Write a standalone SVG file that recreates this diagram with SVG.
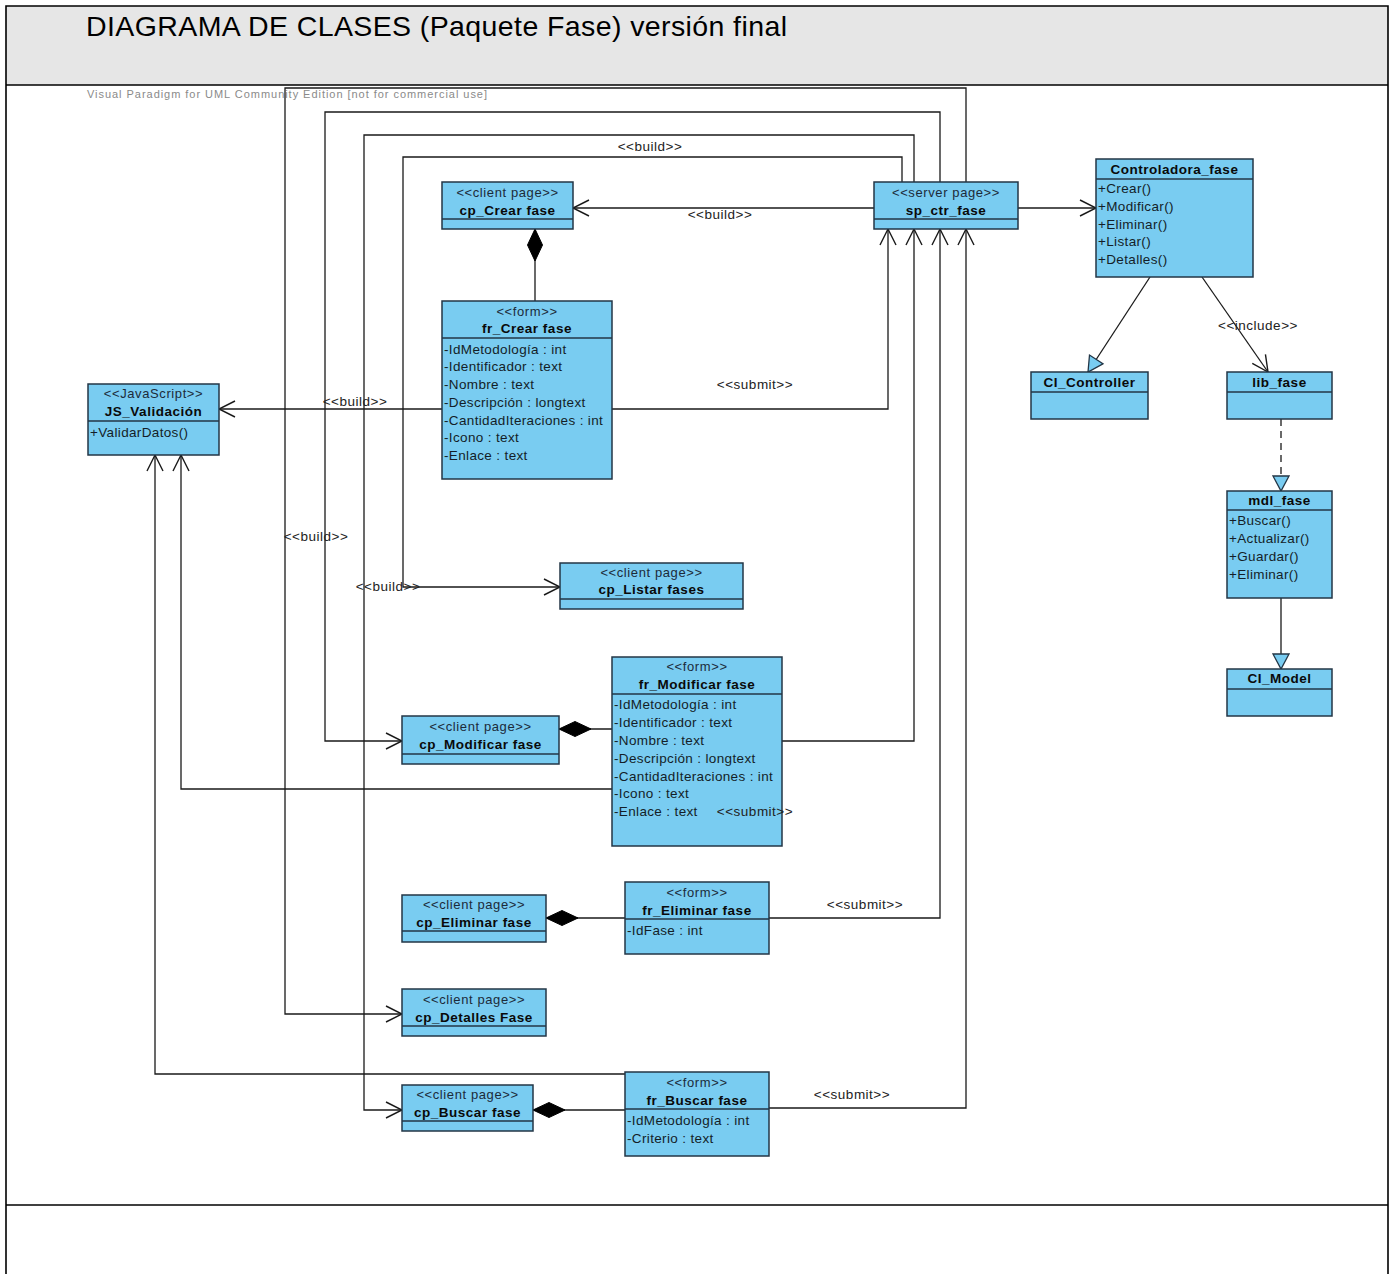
<svg xmlns="http://www.w3.org/2000/svg" width="1395" height="1274" viewBox="0 0 1395 1274">
  <style>
    .frame { fill: none; stroke: #000; stroke-width: 1.6; }
    .box { fill: #79CCF1; stroke: #233646; stroke-width: 1.5; }
    .sep { stroke: #233646; stroke-width: 1.3; }
    .st { font-family: "Liberation Sans", Arial, sans-serif; font-size: 13px; letter-spacing: 0.6px; fill: #1c2b3a; text-anchor: middle; }
    .nm { font-family: "Liberation Sans", Arial, sans-serif; font-size: 13.5px; letter-spacing: 0.5px; font-weight: bold; fill: #0a0a0a; text-anchor: middle; }
    .mb { font-family: "Liberation Sans", Arial, sans-serif; font-size: 13.5px; letter-spacing: 0.35px; fill: #141e28; }
    .lbl { font-family: "Liberation Sans", Arial, sans-serif; font-size: 13.5px; letter-spacing: 0.5px; fill: #222; text-anchor: middle; }
    .ln { fill: none; stroke: #1a1a1a; stroke-width: 1.3; }
    .dash { stroke-dasharray: 7 5; }
  </style>
  <defs>
    <marker id="open" viewBox="-18 -10 20 20" refX="0" refY="0" markerWidth="20" markerHeight="20" markerUnits="userSpaceOnUse" orient="auto">
      <path d="M-16,-8 L0,0 L-16,8" fill="none" stroke="#1a1a1a" stroke-width="1.4"/>
    </marker>
    <marker id="tri" viewBox="-18 -10 20 20" refX="0" refY="0" markerWidth="20" markerHeight="20" markerUnits="userSpaceOnUse" orient="auto">
      <path d="M-15,-8 L0,0 L-15,8 Z" fill="#79CCF1" stroke="#233646" stroke-width="1.3"/>
    </marker>
    <marker id="diamond" viewBox="-1 -9 34 18" refX="0" refY="0" markerWidth="34" markerHeight="18" markerUnits="userSpaceOnUse" orient="auto">
      <path d="M0,0 L16,-7.5 L32,0 L16,7.5 Z" fill="#000" stroke="#000" stroke-width="1"/>
    </marker>
  </defs>

  <rect x="0" y="0" width="1395" height="1274" fill="#fff"/>

  <!-- page frame: title band, drawing area and empty footer row -->
  <g id="frame">
    <rect x="6" y="6" width="1382" height="79" fill="#E6E6E6"/>
    <path class="frame" d="M6,1274 L6,6 L1388,6 L1388,1274"/>
    <line class="frame" x1="6" y1="85" x2="1388" y2="85"/>
    <line class="frame" x1="6" y1="1205" x2="1388" y2="1205"/>
    <text x="86" y="36" font-family="Liberation Sans, Arial, sans-serif" font-size="28.5" fill="#000" textLength="701">DIAGRAMA DE CLASES (Paquete Fase) versión final</text>
    <text x="87" y="98" font-family="Liberation Sans, Arial, sans-serif" font-size="11" fill="#8a8a8a" textLength="400">Visual Paradigm for UML Community Edition [not for commercial use]</text>
  </g>

  <!-- connectors -->
  <g id="connectors">
    <path class="ln" d="M874,208 L573,208" marker-end="url(#open)"/>
    <path class="ln" d="M1018,208 L1096,208" marker-end="url(#open)"/>
    <path class="ln" d="M535,229 L535,301" marker-start="url(#diamond)"/>
    <path class="ln" d="M612,409 L888,409 L888,229" marker-end="url(#open)"/>
    <path class="ln" d="M442,409 L219,409" marker-end="url(#open)"/>
    <path class="ln" d="M782,741 L914,741 L914,229" marker-end="url(#open)"/>
    <path class="ln" d="M769,918 L940,918 L940,229" marker-end="url(#open)"/>
    <path class="ln" d="M769,1108 L966,1108 L966,229" marker-end="url(#open)"/>
    <path class="ln" d="M902,182 L902,157 L403,157 L403,587 L560,587" marker-end="url(#open)"/>
    <path class="ln" d="M914,182 L914,135 L364,135 L364,1110 L402,1110" marker-end="url(#open)"/>
    <path class="ln" d="M940,182 L940,112 L325,112 L325,741 L402,741" marker-end="url(#open)"/>
    <path class="ln" d="M966,182 L966,88 L285,88 L285,1014 L402,1014" marker-end="url(#open)"/>
    <path class="ln" d="M612,789 L181,789 L181,455" marker-end="url(#open)"/>
    <path class="ln" d="M625,1074 L155,1074 L155,455" marker-end="url(#open)"/>
    <path class="ln" d="M559,729 L612,729" marker-start="url(#diamond)"/>
    <path class="ln" d="M546,918 L625,918" marker-start="url(#diamond)"/>
    <path class="ln" d="M533,1110 L625,1110" marker-start="url(#diamond)"/>
    <path class="ln" d="M1150,277 L1088,372" marker-end="url(#tri)"/>
    <path class="ln" d="M1202,277 L1268,372" marker-end="url(#open)"/>
    <path class="ln dash" d="M1281,419 L1281,491" marker-end="url(#tri)"/>
    <path class="ln" d="M1281,598 L1281,669" marker-end="url(#tri)"/>
  </g>

  <!-- classes -->
  <g id="cp_crear_fase">
    <rect class="box" x="442" y="182" width="131" height="47"/>
    <line class="sep" x1="442" y1="219" x2="573" y2="219"/>
    <text class="st" x="507.5" y="197">&lt;&lt;client page&gt;&gt;</text>
    <text class="nm" x="507.5" y="215">cp_Crear fase</text>
  </g>

  <g id="sp_ctr_fase">
    <rect class="box" x="874" y="182" width="144" height="47"/>
    <line class="sep" x1="874" y1="219" x2="1018" y2="219"/>
    <text class="st" x="946" y="197">&lt;&lt;server page&gt;&gt;</text>
    <text class="nm" x="946" y="215">sp_ctr_fase</text>
  </g>

  <g id="controladora_fase">
    <rect class="box" x="1096" y="159" width="157" height="118"/>
    <line class="sep" x1="1096" y1="179" x2="1253" y2="179"/>
    <text class="nm" x="1174.5" y="174">Controladora_fase</text>
    <text class="mb" x="1098" y="193">+Crear()</text>
    <text class="mb" x="1098" y="211">+Modificar()</text>
    <text class="mb" x="1098" y="229">+Eliminar()</text>
    <text class="mb" x="1098" y="246">+Listar()</text>
    <text class="mb" x="1098" y="264">+Detalles()</text>
  </g>

  <g id="ci_controller">
    <rect class="box" x="1031" y="372" width="117" height="47"/>
    <line class="sep" x1="1031" y1="392" x2="1148" y2="392"/>
    <text class="nm" x="1089.5" y="387">CI_Controller</text>
  </g>

  <g id="lib_fase">
    <rect class="box" x="1227" y="372" width="105" height="47"/>
    <line class="sep" x1="1227" y1="392" x2="1332" y2="392"/>
    <text class="nm" x="1279.5" y="387">lib_fase</text>
  </g>

  <g id="mdl_fase">
    <rect class="box" x="1227" y="491" width="105" height="107"/>
    <line class="sep" x1="1227" y1="510" x2="1332" y2="510"/>
    <text class="nm" x="1279.5" y="505">mdl_fase</text>
    <text class="mb" x="1229" y="525">+Buscar()</text>
    <text class="mb" x="1229" y="543">+Actualizar()</text>
    <text class="mb" x="1229" y="561">+Guardar()</text>
    <text class="mb" x="1229" y="579">+Eliminar()</text>
  </g>

  <g id="ci_model">
    <rect class="box" x="1227" y="669" width="105" height="47"/>
    <line class="sep" x1="1227" y1="689" x2="1332" y2="689"/>
    <text class="nm" x="1279.5" y="683">CI_Model</text>
  </g>

  <g id="js_validacion">
    <rect class="box" x="88" y="384" width="131" height="71"/>
    <line class="sep" x1="88" y1="421" x2="219" y2="421"/>
    <text class="st" x="153.5" y="398">&lt;&lt;JavaScript&gt;&gt;</text>
    <text class="nm" x="153.5" y="416">JS_Validación</text>
    <text class="mb" x="90" y="437">+ValidarDatos()</text>
  </g>

  <g id="fr_crear_fase">
    <rect class="box" x="442" y="301" width="170" height="178"/>
    <line class="sep" x1="442" y1="338" x2="612" y2="338"/>
    <text class="st" x="527" y="316">&lt;&lt;form&gt;&gt;</text>
    <text class="nm" x="527" y="333">fr_Crear fase</text>
    <text class="mb" x="444" y="354">-IdMetodología : int</text>
    <text class="mb" x="444" y="371">-Identificador : text</text>
    <text class="mb" x="444" y="389">-Nombre : text</text>
    <text class="mb" x="444" y="407">-Descripción : longtext</text>
    <text class="mb" x="444" y="425">-CantidadIteraciones : int</text>
    <text class="mb" x="444" y="442">-Icono : text</text>
    <text class="mb" x="444" y="460">-Enlace : text</text>
  </g>

  <g id="cp_listar_fases">
    <rect class="box" x="560" y="563" width="183" height="46"/>
    <line class="sep" x1="560" y1="599" x2="743" y2="599"/>
    <text class="st" x="651.5" y="577">&lt;&lt;client page&gt;&gt;</text>
    <text class="nm" x="651.5" y="594">cp_Listar fases</text>
  </g>

  <g id="fr_modificar_fase">
    <rect class="box" x="612" y="657" width="170" height="189"/>
    <line class="sep" x1="612" y1="694" x2="782" y2="694"/>
    <text class="st" x="697" y="671">&lt;&lt;form&gt;&gt;</text>
    <text class="nm" x="697" y="689">fr_Modificar fase</text>
    <text class="mb" x="614" y="709">-IdMetodología : int</text>
    <text class="mb" x="614" y="727">-Identificador : text</text>
    <text class="mb" x="614" y="745">-Nombre : text</text>
    <text class="mb" x="614" y="763">-Descripción : longtext</text>
    <text class="mb" x="614" y="781">-CantidadIteraciones : int</text>
    <text class="mb" x="614" y="798">-Icono : text</text>
    <text class="mb" x="614" y="816">-Enlace : text</text>
  </g>

  <g id="cp_modificar_fase">
    <rect class="box" x="402" y="716" width="157" height="48"/>
    <line class="sep" x1="402" y1="754" x2="559" y2="754"/>
    <text class="st" x="480.5" y="731">&lt;&lt;client page&gt;&gt;</text>
    <text class="nm" x="480.5" y="749">cp_Modificar fase</text>
  </g>

  <g id="cp_eliminar_fase">
    <rect class="box" x="402" y="895" width="144" height="47"/>
    <line class="sep" x1="402" y1="931" x2="546" y2="931"/>
    <text class="st" x="474" y="909">&lt;&lt;client page&gt;&gt;</text>
    <text class="nm" x="474" y="927">cp_Eliminar fase</text>
  </g>

  <g id="fr_eliminar_fase">
    <rect class="box" x="625" y="882" width="144" height="72"/>
    <line class="sep" x1="625" y1="919" x2="769" y2="919"/>
    <text class="st" x="697" y="897">&lt;&lt;form&gt;&gt;</text>
    <text class="nm" x="697" y="915">fr_Eliminar fase</text>
    <text class="mb" x="627" y="935">-IdFase : int</text>
  </g>

  <g id="cp_detalles_fase">
    <rect class="box" x="402" y="989" width="144" height="47"/>
    <line class="sep" x1="402" y1="1026" x2="546" y2="1026"/>
    <text class="st" x="474" y="1004">&lt;&lt;client page&gt;&gt;</text>
    <text class="nm" x="474" y="1022">cp_Detalles Fase</text>
  </g>

  <g id="cp_buscar_fase">
    <rect class="box" x="402" y="1085" width="131" height="46"/>
    <line class="sep" x1="402" y1="1121" x2="533" y2="1121"/>
    <text class="st" x="467.5" y="1099">&lt;&lt;client page&gt;&gt;</text>
    <text class="nm" x="467.5" y="1117">cp_Buscar fase</text>
  </g>

  <g id="fr_buscar_fase">
    <rect class="box" x="625" y="1072" width="144" height="84"/>
    <line class="sep" x1="625" y1="1109" x2="769" y2="1109"/>
    <text class="st" x="697" y="1087">&lt;&lt;form&gt;&gt;</text>
    <text class="nm" x="697" y="1105">fr_Buscar fase</text>
    <text class="mb" x="627" y="1125">-IdMetodología : int</text>
    <text class="mb" x="627" y="1143">-Criterio : text</text>
  </g>

  <!-- connector stereotype labels, drawn above the class boxes -->
  <g id="connector-labels">
    <text class="lbl" x="650" y="151">&lt;&lt;build&gt;&gt;</text>
    <text class="lbl" x="720" y="219">&lt;&lt;build&gt;&gt;</text>
    <text class="lbl" x="755" y="389">&lt;&lt;submit&gt;&gt;</text>
    <text class="lbl" x="355" y="406">&lt;&lt;build&gt;&gt;</text>
    <text class="lbl" x="316" y="541">&lt;&lt;build&gt;&gt;</text>
    <text class="lbl" x="388" y="591">&lt;&lt;build&gt;&gt;</text>
    <text class="lbl" x="755" y="816">&lt;&lt;submit&gt;&gt;</text>
    <text class="lbl" x="865" y="909">&lt;&lt;submit&gt;&gt;</text>
    <text class="lbl" x="852" y="1099">&lt;&lt;submit&gt;&gt;</text>
    <text class="lbl" x="1258" y="330">&lt;&lt;include&gt;&gt;</text>
  </g>
</svg>
